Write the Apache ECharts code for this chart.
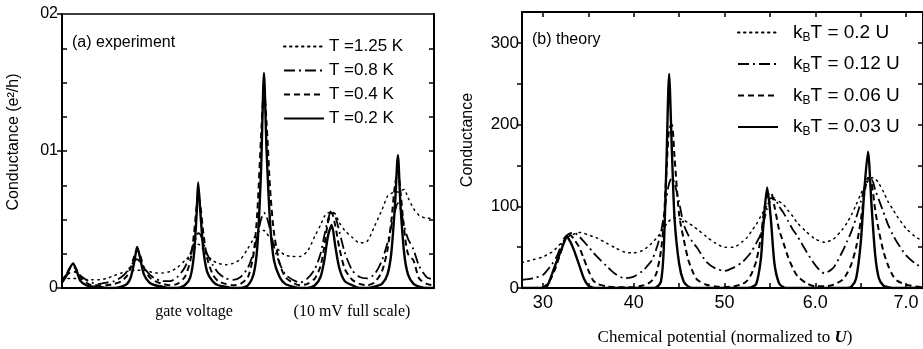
<!DOCTYPE html>
<html>
<head>
<meta charset="utf-8">
<script src="https://cdn.jsdelivr.net/npm/echarts@6/dist/echarts.min.js"></script>
<style>
  html, body { margin: 0; padding: 0; background: #ffffff; }
  #chart { width: 923px; height: 349px; }
</style>
</head>
<body>
<div id="chart"></div>
<script>
// ---------- (a) experiment: conductance vs gate voltage (mV over a 10 mV sweep) ----------
const gateVoltage = [0,0.1,0.2,0.3,0.4,0.5,0.65,0.8,1.0,1.2,
  1.4,1.6,1.75,1.85,1.95,2.02,2.1,2.2,2.35,2.5,
  2.7,2.9,3.1,3.3,3.45,3.55,3.62,3.66,3.72,3.8,
  3.9,4.05,4.2,4.4,4.6,4.8,5.0,5.15,5.25,5.35,
  5.43,5.5,5.6,5.7,5.85,6.0,6.2,6.4,6.6,6.8,
  6.95,7.05,7.15,7.25,7.35,7.45,7.6,7.8,8.0,8.2,
  8.4,8.6,8.75,8.85,8.95,9.03,9.1,9.2,9.3,9.45,
  9.6,9.8,10.0];

// conductance in e^2/h
const condT125 = [0.007,0.007,0.007,0.007,0.007,0.006,0.006,0.006,0.006,0.007,
  0.009,0.011,0.012,0.012,0.013,0.013,0.013,0.013,0.012,0.011,
  0.011,0.012,0.015,0.020,0.024,0.028,0.031,0.032,0.031,0.028,
  0.024,0.020,0.018,0.017,0.018,0.021,0.029,0.036,0.040,0.042,
  0.042,0.040,0.036,0.032,0.027,0.024,0.023,0.023,0.027,0.038,
  0.046,0.052,0.055,0.055,0.054,0.048,0.042,0.037,0.033,0.034,
  0.045,0.057,0.067,0.069,0.070,0.070,0.071,0.072,0.066,0.058,
  0.053,0.051,0.051];
const condT08 = [0.006,0.009,0.011,0.012,0.011,0.009,0.006,0.004,0.003,0.004,
  0.005,0.008,0.012,0.016,0.020,0.021,0.019,0.015,0.010,0.007,
  0.005,0.005,0.008,0.015,0.025,0.033,0.038,0.040,0.039,0.033,
  0.025,0.017,0.011,0.007,0.006,0.008,0.015,0.026,0.038,0.050,
  0.055,0.052,0.042,0.030,0.018,0.010,0.006,0.004,0.007,0.014,
  0.025,0.038,0.050,0.057,0.052,0.042,0.026,0.013,0.008,0.007,
  0.010,0.020,0.033,0.045,0.056,0.062,0.058,0.045,0.036,0.028,
  0.016,0.008,0.006];
const condT04 = [0.005,0.009,0.014,0.016,0.013,0.008,0.004,0.002,0.002,0.002,
  0.003,0.005,0.009,0.015,0.024,0.028,0.024,0.015,0.008,0.005,
  0.003,0.002,0.003,0.008,0.020,0.040,0.060,0.068,0.060,0.040,
  0.022,0.010,0.005,0.003,0.002,0.003,0.008,0.025,0.055,0.110,
  0.145,0.120,0.070,0.040,0.018,0.008,0.004,0.002,0.003,0.007,
  0.016,0.030,0.048,0.055,0.045,0.030,0.014,0.006,0.003,0.002,
  0.004,0.012,0.028,0.048,0.075,0.085,0.070,0.042,0.025,0.020,
  0.007,0.003,0.002];
const condT02 = [0.004,0.008,0.014,0.018,0.012,0.005,0.002,0.001,0.001,0.000,
  0.000,0.001,0.003,0.008,0.020,0.030,0.022,0.010,0.004,0.002,
  0.001,0.000,0.000,0.002,0.008,0.025,0.055,0.077,0.055,0.028,
  0.012,0.005,0.002,0.001,0.000,0.000,0.002,0.010,0.030,0.085,
  0.157,0.100,0.045,0.020,0.008,0.003,0.001,0.000,0.000,0.002,
  0.008,0.020,0.038,0.046,0.030,0.015,0.005,0.002,0.000,0.000,
  0.001,0.003,0.010,0.025,0.060,0.097,0.060,0.025,0.010,0.003,
  0.001,0.000,0.000];

const expNames = ['T =1.25 K', 'T =0.8 K', 'T =0.4 K', 'T =0.2 K'];
const expTickValues = [0, 0.1, 0.2];
const expTickLabels = ['0', '01', '02'];

// ---------- (b) theory: conductance vs chemical potential ----------
const potential = [27.7,29,30,30.5,31,31.5,32,32.3,32.6,33,
  33.4,34,34.5,35,35.5,36,37,38,39,40,
  41,41.5,42,42.5,43,43.3,43.6,43.9,44.2,44.5,
  45,45.5,46,46.5,47,48,49,50,51,52,
  52.5,53,53.5,54,54.3,54.7,55.1,55.5,56,56.5,
  57,57.5,58,59,60,61,62,63,63.5,64,
  64.5,65,65.4,65.8,66.2,66.6,67,67.5,68,68.5,
  69,70,71,71.9];

const condKT020 = [31,35,38,41,44,49,55,58,61,64,
  66,68,67,65,63,61,55,49,44,43,
  46,50,55,61,68,73,78,82,85,86,
  85,83,80,76,72,63,55,50,50,57,
  62,70,78,88,94,101,106,108,106,102,
  95,88,80,69,60,56,60,72,80,90,
  102,115,124,131,135,134,128,118,106,97,
  88,73,63,57];
const condKT012 = [10,12,16,22,29,38,52,60,64,67,
  68,63,57,51,44,38,27,17,12,14,
  21,27,34,48,68,88,110,128,135,128,
  105,78,65,56,49,32,24,21,25,32,
  38,45,55,66,80,98,110,110,100,92,
  82,72,64,45,28,18,25,45,57,70,
  86,105,122,132,133,120,108,93,78,66,
  56,40,30,24];
const condKT006 = [0,0,1,5,14,28,45,55,62,65,
  60,50,36,22,10,5,2,1,1,1,
  3,5,9,18,45,80,140,195,200,160,
  90,60,35,20,10,4,2,1,2,5,
  9,18,33,62,90,113,117,100,72,55,
  38,25,15,6,2,2,4,10,18,30,
  50,82,115,135,128,95,70,45,28,16,
  9,4,2,1];
const condKT003 = [0,0,0,3,17,32,46,55,63,57,
  47,28,12,3,0.5,0,0,0,0,0,
  0,0,0,1,8,45,150,262,170,85,
  30,8,2,0,0,0,0,0,0,0,
  0,1,5,35,80,123,85,30,6,1,
  0,0,0,0,0,0,0,0,0,2,
  12,55,120,167,100,40,12,3,1,0,
  0,0,0,0];

const theoryNames = ['kBT = 0.2 U', 'kBT = 0.12 U', 'kBT = 0.06 U', 'kBT = 0.03 U'];
const theoryYTickValues = [0, 100, 200, 300];
const theoryYTickLabels = ['0', '100', '200', '300'];
const theoryXTickValues = [30, 40, 50, 60, 70];
const theoryXTickLabels = ['30', '40', '50', '6.0', '7.0'];

// ---------- styling ----------
const INK = '#000000';
const SANS = 'Liberation Sans, Arial, sans-serif';
const SERIF = 'Liberation Serif, Times New Roman, serif';

// dotted, dash-dot, dashed, solid (hottest to coldest)
const lineStyles = [
  { width: 1.5, type: [1.5, 4.5], cap: 'round' },
  { width: 1.8, type: [11, 4, 2, 4] },
  { width: 2, type: [6, 4] },
  { width: 2.4, type: 'solid' }
];

function pairs(xs, ys) { return xs.map((x, i) => [x, ys[i]]); }
function range(a, b, step) { const out = []; for (let v = a; v <= b + 1e-9; v += step) out.push(+v.toFixed(4)); return out; }

const expCurves = [condT125, condT08, condT04, condT02];
const theoryCurves = [condKT020, condKT012, condKT006, condKT003];

const series = [];
expCurves.forEach((ys, i) => series.push({
  name: expNames[i], type: 'line', xAxisIndex: 0, yAxisIndex: 0,
  data: pairs(gateVoltage, ys), symbol: 'none', smooth: 0.25,
  lineStyle: Object.assign({ color: INK }, lineStyles[i]), itemStyle: { color: INK }
}));
theoryCurves.forEach((ys, i) => series.push({
  name: theoryNames[i], type: 'line', xAxisIndex: 2, yAxisIndex: 3,
  data: pairs(potential, ys), symbol: 'none', smooth: 0.25,
  lineStyle: Object.assign({ color: INK }, lineStyles[i]), itemStyle: { color: INK }
}));

const frame = { onZero: false, lineStyle: { color: INK, width: 2 } };
const noLine = { show: false, onZero: false };
const hidden = { show: false };
const tickStyle = { color: INK, width: 1.5 };

const option = {
  animation: false,
  backgroundColor: '#ffffff',
  grid: [
    { left: 62, top: 14, width: 372, height: 274 },
    { left: 522, top: 12, width: 403, height: 276 }
  ],
  xAxis: [
    { gridIndex: 0, type: 'value', min: 0, max: 10, position: 'bottom',
      axisLine: frame, axisTick: hidden, axisLabel: hidden, splitLine: hidden },
    { gridIndex: 0, type: 'value', min: 0, max: 10, position: 'top',
      axisLine: { onZero: false, lineStyle: { color: INK, width: 1.5 } }, axisTick: hidden, axisLabel: hidden, splitLine: hidden },
    { gridIndex: 1, type: 'value', min: 27.7, max: 71.86, position: 'bottom',
      axisLine: frame,
      axisTick: { inside: true, length: 5, lineStyle: tickStyle, customValues: range(30, 70, 5) },
      axisLabel: { customValues: theoryXTickValues, margin: 6, color: INK, fontFamily: SANS, fontSize: 18,
        formatter: v => theoryXTickLabels[theoryXTickValues.indexOf(v)] },
      splitLine: hidden },
    { gridIndex: 1, type: 'value', min: 27.7, max: 71.86, position: 'top',
      axisLine: frame,
      axisTick: { inside: true, length: 5, lineStyle: tickStyle, customValues: range(30, 70, 5) },
      axisLabel: hidden, splitLine: hidden }
  ],
  yAxis: [
    { gridIndex: 0, type: 'value', min: 0, max: 0.2, position: 'left',
      axisLine: frame,
      axisTick: { length: 5, lineStyle: tickStyle, customValues: expTickValues },
      axisLabel: { customValues: expTickValues, margin: 4, color: INK, fontFamily: SANS, fontSize: 16,
        formatter: v => expTickLabels[expTickValues.indexOf(v)] },
      splitLine: hidden },
    { gridIndex: 0, type: 'value', min: 0, max: 0.2, position: 'left',
      axisLine: noLine,
      axisTick: { inside: true, length: 5, lineStyle: tickStyle, customValues: range(0.025, 0.175, 0.025) },
      axisLabel: hidden, splitLine: hidden },
    { gridIndex: 0, type: 'value', min: 0, max: 0.2, position: 'right',
      axisLine: frame,
      axisTick: { inside: true, length: 5, lineStyle: tickStyle, customValues: range(0.025, 0.175, 0.025) },
      axisLabel: hidden, splitLine: hidden },
    { gridIndex: 1, type: 'value', min: 0, max: 338, position: 'left',
      axisLine: frame,
      axisTick: { length: 5, lineStyle: tickStyle, customValues: range(0, 300, 50) },
      axisLabel: { customValues: theoryYTickValues, margin: 3, color: INK, fontFamily: SANS, fontSize: 17,
        formatter: v => theoryYTickLabels[theoryYTickValues.indexOf(v)] },
      splitLine: hidden },
    { gridIndex: 1, type: 'value', min: 0, max: 338, position: 'right',
      axisLine: frame,
      axisTick: { inside: true, length: 5, lineStyle: tickStyle, customValues: range(50, 300, 50) },
      axisLabel: hidden, splitLine: hidden }
  ],
  legend: [
    { data: expNames, orient: 'vertical', left: 278, top: 33,
      itemWidth: 40, itemHeight: 14, itemGap: 7, selectedMode: false,
      itemStyle: { opacity: 0 },
      textStyle: { color: INK, fontFamily: SANS, fontSize: 17 } },
    { data: theoryNames, orient: 'vertical', left: 732, top: 18,
      itemWidth: 40, itemHeight: 14, itemGap: 11, selectedMode: false,
      itemStyle: { opacity: 0 },
      formatter: name => '{k|k}{s|B}{t|' + name.slice(2) + '}',
      textStyle: { color: INK, fontFamily: SANS, fontSize: 19,
        rich: {
          k: { fontFamily: SANS, fontSize: 19, color: INK, padding: [0, 0, 0, 10] },
          s: { fontFamily: SANS, fontSize: 12, color: INK, padding: [10, 0, 0, 0] },
          t: { fontFamily: SANS, fontSize: 19, color: INK }
        } } }
  ],
  graphic: [
    { type: 'text', x: 72, y: 43, silent: true,
      style: { text: '(a) experiment', fill: INK, fontFamily: SANS, fontSize: 16, align: 'left', verticalAlign: 'middle' } },
    { type: 'text', x: 532, y: 40, silent: true,
      style: { text: '(b) theory', fill: INK, fontFamily: SANS, fontSize: 16, align: 'left', verticalAlign: 'middle' } },
    { type: 'text', x: 14, y: 142, rotation: Math.PI / 2, silent: true,
      style: { text: 'Conductance (e²/h)', fill: INK, fontFamily: SANS, fontSize: 16, align: 'center', verticalAlign: 'middle' } },
    { type: 'text', x: 468, y: 140, rotation: Math.PI / 2, silent: true,
      style: { text: 'Conductance', fill: INK, fontFamily: SANS, fontSize: 16, align: 'center', verticalAlign: 'middle' } },
    { type: 'text', x: 194, y: 312, silent: true,
      style: { text: 'gate voltage', fill: INK, fontFamily: SERIF, fontSize: 16, align: 'center', verticalAlign: 'middle' } },
    { type: 'text', x: 352, y: 312, silent: true,
      style: { text: '(10 mV full scale)', fill: INK, fontFamily: SERIF, fontSize: 16, align: 'center', verticalAlign: 'middle' } },
    { type: 'text', x: 725, y: 338, silent: true,
      style: { text: '{n|Chemical potential (normalized to }{u|U}{n|)}', fill: INK, align: 'center', verticalAlign: 'middle',
        rich: {
          n: { fontFamily: SERIF, fontSize: 17, fill: INK },
          u: { fontFamily: SERIF, fontSize: 17, fontStyle: 'italic', fontWeight: 'bold', fill: INK }
        } } }
  ],
  series: series
};

const chart = echarts.init(document.getElementById('chart'), null, { renderer: 'canvas' });
chart.setOption(option);
</script>
</body>
</html>
